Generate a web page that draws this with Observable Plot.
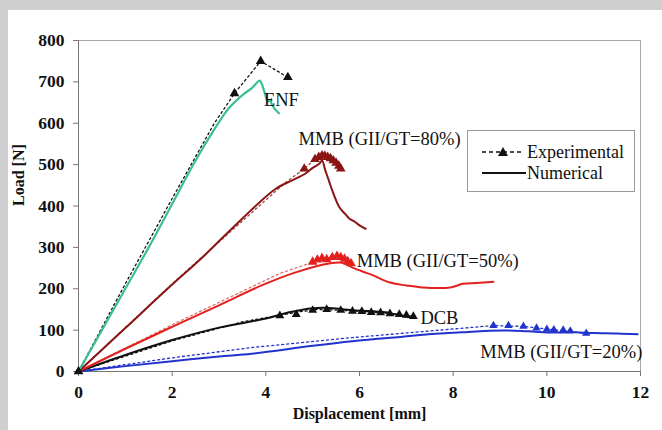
<!DOCTYPE html>
<html><head><meta charset="utf-8">
<script src="https://cdn.jsdelivr.net/npm/d3@7"></script>
<script src="https://cdn.jsdelivr.net/npm/@observablehq/plot@0.6"></script>
<style>
html,body{margin:0;padding:0;background:#cfcfcf;}
#wrap{position:relative;width:662px;height:430px;overflow:hidden;background:#cfcfcf;}
#chart{position:absolute;left:8px;top:10px;width:654px;height:420px;background:#fff;}
#legend{position:absolute;left:467px;top:130px;width:166px;height:60px;border:1px solid #9a9a9a;background:#fff;font-family:"Liberation Serif",serif;font-size:18px;color:#111;}
#legend .row{position:absolute;left:12px;height:20px;display:flex;align-items:center;}
#legend svg{margin-right:1px;}
</style></head>
<body>
<div id="wrap"><div id="chart"></div>
<div id="legend">
 <div class="row" style="top:11px"><svg width="46" height="14"><line x1="2" y1="7" x2="44" y2="7" stroke="#111" stroke-width="1.3" stroke-dasharray="4,3"/><path d="M23,2 L28,11 L18,11 Z" fill="#111"/></svg><span>Experimental</span></div>
 <div class="row" style="top:32px"><svg width="46" height="14"><line x1="2" y1="7" x2="46" y2="7" stroke="#111" stroke-width="2.2"/></svg><span>Numerical</span></div>
</div>
</div>
<script>
const xTicks = [0, 2, 4, 6, 8, 10, 12];
const yTicks = [0, 100, 200, 300, 400, 500, 600, 700, 800];

// ENF
const enfNumerical = [[0,0],[0.5,100],[1,200],[1.5,300],[2,405],[2.5,510],[2.9,585],[3.2,635],[3.5,668],[3.7,685],[3.87,703],[3.91,696],[3.98,672],[4.04,652],[4.08,656],[4.13,646],[4.18,636],[4.28,624]];
const enfExpLine = [[0,0],[1,212],[2,418],[2.9,600],[3.33,672],[3.89,750],[4.47,711]];
const enfExpPts = [[0,0],[3.33,672],[3.89,750],[4.47,711]];

// MMB GII/GT = 80%
const mmb80Numerical = [[0,0],[1,105],[2,210],[2.62,273],[3.5,370],[4.19,440],[4.56,462],[4.84,478],[5.0,492],[5.14,502],[5.2,510],[5.27,486],[5.35,460],[5.42,437],[5.57,397],[5.7,380],[5.78,370],[5.9,362],[6.0,353],[6.13,345]];
const mmb80ExpLine = [[0,0],[2,212],[4.41,456],[4.82,490],[5.05,513],[5.2,521],[5.35,517],[5.48,507],[5.6,490]];
const mmb80ExpPts = [[4.82,490],[5.05,513],[5.13,518],[5.2,522],[5.26,521],[5.32,518],[5.38,515],[5.44,510],[5.5,504],[5.56,497],[5.6,490]];

// MMB GII/GT = 50%
const mmb50Numerical = [[0,0],[1,55],[2,108],[3,160],[3.91,208],[4.62,239],[5.35,261],[5.63,263],[5.85,251],[6.13,239],[6.28,233],[6.65,215],[7.0,208],[7.35,203],[7.94,203],[8.21,212],[8.5,214],[8.86,217]];
const mmb50ExpLine = [[0,0],[2,113],[4.3,237],[5.05,266],[5.3,274],[5.55,277],[5.8,262]];
const mmb50ExpPts = [[5.0,265],[5.1,270],[5.2,274],[5.3,271],[5.42,276],[5.52,279],[5.6,276],[5.68,272],[5.75,266],[5.82,261]];

// DCB
const dcbNumerical = [[0,0],[1,40],[2,76],[3,106],[4,128],[4.5,143],[5.0,153],[5.3,154],[5.85,148],[6.56,143],[6.8,137],[7.07,131]];
const dcbExpLine = [[0,0],[2,74],[3.5,120],[4.3,136],[4.7,144],[5.1,150],[5.6,148],[6.2,144],[6.7,140],[7.15,133]];
const dcbExpPts = [[0,0],[4.3,135],[4.65,138],[5.0,148],[5.3,150],[5.6,148],[5.85,146],[6.05,145],[6.25,143],[6.45,142],[6.65,140],[6.85,138],[7.0,136],[7.15,133]];

// MMB GII/GT = 20%
const mmb20Numerical = [[0,0],[1,13],[2,25],[3,36],[3.7,43],[5,62],[5.85,73],[6.92,84],[7.63,91],[8.2,95],[9.07,99],[9.6,97],[10.15,94],[10.6,95],[11,93],[11.5,92],[11.94,90]];
const mmb20ExpLine = [[0,0],[2,33],[3.7,58],[5.85,82],[7.5,98],[8.86,111],[9.5,109],[10.15,101],[10.84,92]];
const mmb20ExpPts = [[8.86,111],[9.18,111],[9.5,109],[9.78,105],[10.0,102],[10.15,101],[10.35,100],[10.5,98],[10.84,92]];

// series labels (anchor in data units)
const labelText = ["ENF", "MMB (GII/GT=80%)", "MMB (GII/GT=50%)", "DCB", "MMB (GII/GT=20%)"];
const labelX = [3.96, 4.7, 5.94, 7.3, 8.58];
const labelY = [655, 561, 268, 130, 46];

const cGreen = "#3cbf95", cDark = "#8b1414", cRed = "#e3201d", cBlack = "#111", cBlue = "#2233cc";
const X = d => d[0], Y = d => d[1];

const expDash = {strokeWidth: 1.3, strokeDasharray: "2,3"};
const num = {strokeWidth: 2, curve: "catmull-rom"};
const plot = Plot.plot({
  width: 654, height: 420,
  marginLeft: 70, marginTop: 30, marginRight: 22, marginBottom: 59,
  style: {fontFamily: "'Liberation Serif', serif", fontSize: "17.5px", background: "#fff", color: "#111"},
  x: {domain: [0, 12]},
  y: {domain: [0, 800]},
  marks: [
    Plot.frame({stroke: "#a8a8a8"}),
    Plot.ruleX([0], {stroke: "#777"}),
    Plot.ruleY([0], {stroke: "#777"}),
    Plot.axisX({ticks: xTicks, tickSize: 5, tickPadding: 9, label: null, fontWeight: "bold", stroke: "#777"}),
    Plot.axisY({ticks: yTicks, tickSize: 5, tickPadding: 9, label: null, fontWeight: "bold", stroke: "#777"}),
    Plot.text(["Displacement [mm]"], {frameAnchor: "bottom", dy: 47, fontWeight: "bold", fontSize: 16}),
    Plot.text(["Load [N]"], {frameAnchor: "left", dx: -60, rotate: -90, fontWeight: "bold", fontSize: 16}),

    Plot.line(enfExpLine, {x: X, y: Y, stroke: cBlack, ...expDash}),
    Plot.line(mmb80ExpLine, {x: X, y: Y, stroke: "#9a4a4a", ...expDash}),
    Plot.line(mmb50ExpLine, {x: X, y: Y, stroke: "#e07070", ...expDash}),
    Plot.line(dcbExpLine, {x: X, y: Y, stroke: cBlack, ...expDash}),
    Plot.line(mmb20ExpLine, {x: X, y: Y, stroke: cBlue, ...expDash}),

    Plot.line(mmb20Numerical, {x: X, y: Y, stroke: cBlue, ...num}),
    Plot.line(dcbNumerical, {x: X, y: Y, stroke: cBlack, ...num}),
    Plot.line(mmb50Numerical, {x: X, y: Y, stroke: cRed, ...num}),
    Plot.line(mmb80Numerical, {x: X, y: Y, stroke: cDark, ...num}),
    Plot.line(enfNumerical, {x: X, y: Y, stroke: cGreen, ...num, strokeWidth: 2.2}),

    Plot.dot(enfExpPts, {x: X, y: Y, symbol: "triangle", r: 3.6, fill: cBlack}),
    Plot.dot(mmb80ExpPts, {x: X, y: Y, symbol: "triangle", r: 3.6, fill: cDark}),
    Plot.dot(mmb50ExpPts, {x: X, y: Y, symbol: "triangle", r: 3.6, fill: cRed}),
    Plot.dot(dcbExpPts, {x: X, y: Y, symbol: "triangle", r: 3.3, fill: cBlack}),
    Plot.dot(mmb20ExpPts, {x: X, y: Y, symbol: "triangle", r: 3.1, fill: cBlue}),

    Plot.text(labelText, {x: (d, i) => labelX[i], y: (d, i) => labelY[i], text: d => d, textAnchor: "start", fontSize: 18.5, fill: "#111"})
  ]
});
document.getElementById("chart").appendChild(plot);
</script>
</body></html>
